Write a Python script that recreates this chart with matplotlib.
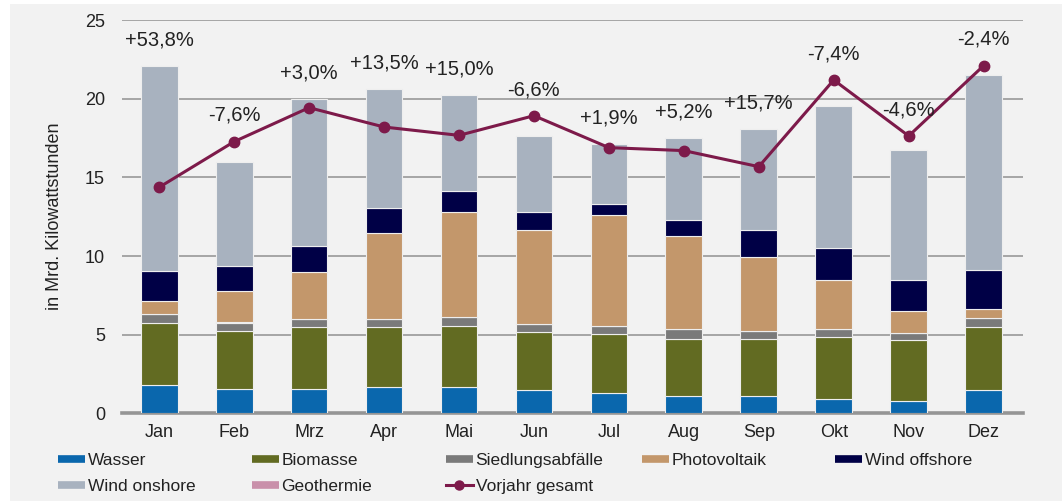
import numpy as np
import matplotlib
matplotlib.use("Agg")
import matplotlib.pyplot as plt
from matplotlib.patches import Rectangle
from matplotlib.lines import Line2D

plt.rcParams['font.family'] = ['Liberation Sans', 'DejaVu Sans']

# Daten (Mrd. kWh), pro Monat
monate = ['Jan', 'Feb', 'Mrz', 'Apr', 'Mai', 'Jun', 'Jul', 'Aug', 'Sep', 'Okt', 'Nov', 'Dez']
wasser = [1.80, 1.53, 1.53, 1.69, 1.69, 1.48, 1.31, 1.10, 1.10, 0.93, 0.78, 1.48]
biomasse = [3.96, 3.72, 3.94, 3.78, 3.88, 3.67, 3.71, 3.64, 3.64, 3.90, 3.88, 4.03]
siedlung = [0.53, 0.51, 0.51, 0.51, 0.53, 0.51, 0.53, 0.60, 0.49, 0.51, 0.43, 0.53]
geothermie = [0.02, 0.02, 0.02, 0.02, 0.02, 0.02, 0.02, 0.02, 0.02, 0.02, 0.02, 0.02]
photovoltaik = [0.80, 1.97, 2.98, 5.46, 6.65, 5.99, 7.01, 5.89, 4.66, 3.13, 1.37, 0.57]
wind_offshore = [1.91, 1.59, 1.63, 1.59, 1.38, 1.13, 0.75, 1.02, 1.72, 2.02, 2.01, 2.50]
wind_onshore = [13.03, 6.61, 9.39, 7.57, 6.06, 4.80, 3.81, 5.23, 6.44, 9.05, 8.22, 12.40]
vorjahr = [14.37, 17.27, 19.43, 18.20, 17.67, 18.92, 16.89, 16.70, 15.68, 21.19, 17.63, 22.10]
veraenderung = ['+53,8%', '-7,6%', '+3,0%', '+13,5%', '+15,0%', '-6,6%',
                '+1,9%', '+5,2%', '+15,7%', '-7,4%', '-4,6%', '-2,4%']

serien = [
    ('Wasser', wasser, '#0a67ad'),
    ('Biomasse', biomasse, '#626b22'),
    ('Siedlungsabfälle', siedlung, '#7a7a7a'),
    ('Geothermie', geothermie, '#c990aa'),
    ('Photovoltaik', photovoltaik, '#c3976b'),
    ('Wind offshore', wind_offshore, '#000046'),
    ('Wind onshore', wind_onshore, '#a8b2bf'),
]
farben = {name: c for name, _, c in serien}
linienfarbe = '#7d1a4a'
bg = '#f2f2f2'
textfarbe = '#222222'

fig = plt.figure(figsize=(10.63, 5.01), dpi=100)
fig.patch.set_facecolor('white')
fig.patches.append(Rectangle((10 / 1063, 0), 1052 / 1063, 1 - 4 / 501,
                             transform=fig.transFigure, facecolor=bg,
                             edgecolor='none', zorder=-10))

ax = fig.add_axes([0.1145, 0.175, 0.8475, 0.785])
ax.set_facecolor('none')

x = np.arange(len(monate))
unten = np.zeros(len(monate))
for name, werte, farbe in serien:
    ax.bar(x, werte, width=0.49, bottom=unten, color=farbe,
           edgecolor='#eeeeee', linewidth=0.8, zorder=2)
    unten += np.array(werte)

ax.plot(x, vorjahr, color=linienfarbe, lw=2.2, marker='o', markersize=7.5, zorder=3)

# Prozent-Beschriftungen oberhalb von Balken bzw. Linie
for i, txt in enumerate(veraenderung):
    y = max(unten[i], vorjahr[i])
    ax.annotate(txt, (x[i], y), xytext=(0, 12), textcoords='offset points',
                ha='center', va='bottom', fontsize=14.5, color=textfarbe, zorder=4)

ax.set_xlim(-0.5, 11.52)
ax.set_ylim(0, 25)
ax.set_yticks([0, 5, 10, 15, 20, 25])
ax.set_xticks(x)
ax.set_xticklabels(monate)
ax.tick_params(axis='both', length=0, labelsize=13, colors=textfarbe)
ax.tick_params(axis='y', pad=12)
ax.tick_params(axis='x', pad=8)
ax.grid(axis='y', color='#a0a0a0', lw=1.3, zorder=0)
ax.set_axisbelow(True)
for s in ['top', 'right', 'left']:
    ax.spines[s].set_visible(False)
ax.spines['bottom'].set_color('#959595')
ax.spines['bottom'].set_linewidth(2.6)
ax.spines['bottom'].set_zorder(1)
ax.set_ylabel('in Mrd. Kilowattstunden', fontsize=13, color=textfarbe, labelpad=16)

# Legende: Spalten einzeln platzieren
def h(c):
    return Line2D([], [], color=c, lw=5.5, solid_capstyle='butt')

spalten = [
    [(h(farben['Wasser']), 'Wasser'), (h(farben['Wind onshore']), 'Wind onshore')],
    [(h(farben['Biomasse']), 'Biomasse'), (h(farben['Geothermie']), 'Geothermie')],
    [(h(farben['Siedlungsabfälle']), 'Siedlungsabfälle'),
     (Line2D([], [], color=linienfarbe, lw=2.2, marker='o', markersize=6.5), 'Vorjahr gesamt')],
    [(h(farben['Photovoltaik']), 'Photovoltaik')],
    [(h(farben['Wind offshore']), 'Wind offshore')],
]
spalten_x = [58, 252, 446, 642, 835]
for sx, eintraege in zip(spalten_x, spalten):
    fig.legend([e[0] for e in eintraege], [e[1] for e in eintraege],
               loc='upper left', bbox_to_anchor=(sx / 1063, 1 - 453 / 501),
               frameon=False, fontsize=12.5, handlelength=1.55, handletextpad=0.15,
               borderpad=0, borderaxespad=0, labelspacing=0.62, labelcolor=textfarbe)

fig.savefig('out.png', dpi=100, facecolor=fig.get_facecolor())
